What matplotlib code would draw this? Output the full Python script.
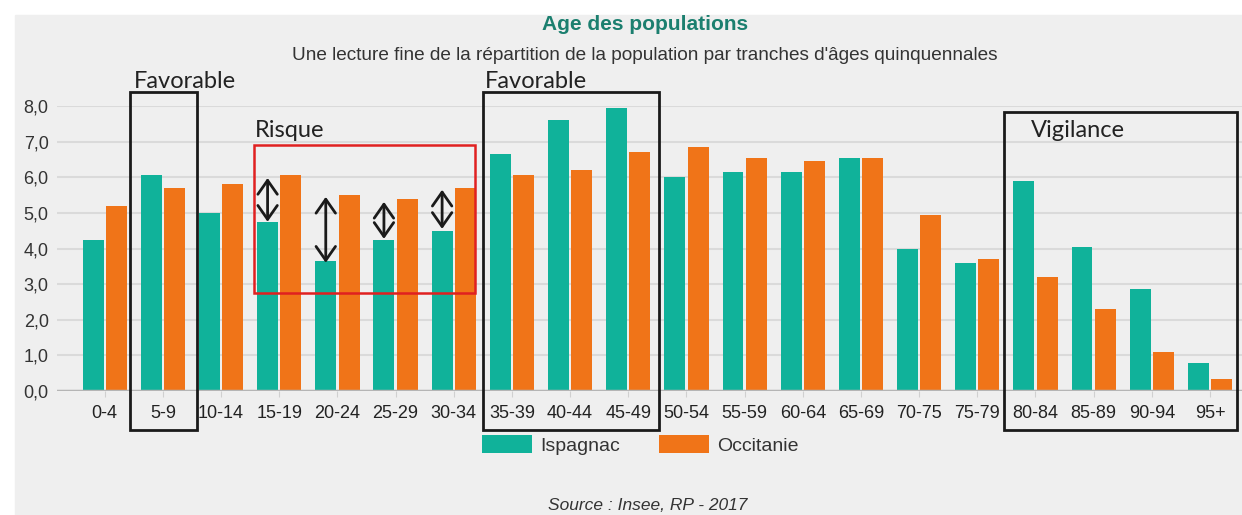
import numpy as np
import matplotlib.pyplot as plt
from matplotlib.patches import Rectangle

# ---------------------------------------
# DATA
# ---------------------------------------
categories = ["0-4", "5-9", "10-14", "15-19", "20-24", "25-29", "30-34",
              "35-39", "40-44", "45-49", "50-54", "55-59", "60-64", "65-69",
              "70-75", "75-79", "80-84", "85-89", "90-94", "95+"]
ispagnac = [4.25, 6.05, 5.0, 4.75, 3.65, 4.25, 4.5,
            6.65, 7.6, 7.95, 6.0, 6.15, 6.15, 6.55,
            4.0, 3.6, 5.9, 4.05, 2.85, 0.8]
occitanie = [5.2, 5.7, 5.8, 6.05, 5.5, 5.4, 5.7,
             6.05, 6.2, 6.7, 6.85, 6.55, 6.45, 6.55,
             4.95, 3.7, 3.2, 2.3, 1.1, 0.35]
yticks = [0, 1, 2, 3, 4, 5, 6, 7, 8]

# annotation boxes: (x0, x1, y0, y1, label)
black_boxes = [(0.43, 1.58, -1.1, 8.4, "Favorable"),
               (6.51, 9.52, -1.1, 8.4, "Favorable"),
               (15.46, 19.47, -1.1, 7.84, "Vigilance")]
red_box = (2.56, 6.36, 2.75, 6.91, "Risque")
# double arrows (category index, bottom, top)
arrows = [(3, 4.75, 5.98), (4, 3.6, 5.45), (5, 4.27, 5.31), (6, 4.55, 5.65)]

TEAL = "#10b29a"
ORANGE = "#f07418"
BG = "#efefef"

# ---------------------------------------
# FIGURE
# ---------------------------------------
plt.rcParams['font.family'] = ['Liberation Sans', 'DejaVu Sans']

fig = plt.figure(figsize=(12.42, 5.15), dpi=100)
fig.patches.append(Rectangle((15 / 1242, 0), 1, 1 - 15 / 515,
                             transform=fig.transFigure, color=BG, zorder=-5))

ax = fig.add_axes([57 / 1242, 1 - 391 / 515, 1 - 57 / 1242, (391 - 106) / 515])
ax.set_zorder(2)
ax.set_facecolor("none")

x = np.arange(len(categories))
w = 0.36
ax.bar(x - 0.2, ispagnac, w, color=TEAL, zorder=3, label="Ispagnac")
ax.bar(x + 0.2, occitanie, w, color=ORANGE, zorder=3, label="Occitanie")

ax.set_xlim(-0.82, 19.55)
ax.set_ylim(0, 8)
ax.set_yticks(yticks)
ax.set_yticklabels([f"{v:.1f}".replace(".", ",") for v in yticks],
                   fontsize=13, color="#333333")
ax.set_xticks(x)
ax.set_xticklabels(categories, fontsize=13, color="#222222")
ax.tick_params(axis="y", length=0, pad=6)
ax.tick_params(axis="x", length=4, color="#d0d0d0", pad=6)

ax.grid(axis="y", color="#dadada", lw=1.5, zorder=0)
for s in ax.spines.values():
    s.set_visible(False)
ax.axhline(0, color="#b5b5b5", lw=2.5, zorder=4)

# boxes and labels
for x0, x1, y0, y1, lab in black_boxes:
    ax.add_patch(Rectangle((x0, y0), x1 - x0, y1 - y0, fill=False,
                           ec="#1a1a1a", lw=2, clip_on=False, zorder=5))
for (x0, x1, y0, y1, lab), (tx, ty) in zip(black_boxes,
                                            [(0.50, 8.4), (6.53, 8.4), (15.93, 7.3)]):
    ax.text(tx, ty, lab, family="Lato", fontsize=17, color="#222222",
            ha="left", va="bottom" if ty > 8 else "center", zorder=6, clip_on=False)

x0, x1, y0, y1, lab = red_box
ax.add_patch(Rectangle((x0, y0), x1 - x0, y1 - y0, fill=False,
                       ec="#e02020", lw=1.8, zorder=5))
ax.text(2.58, 7.3, lab, family="Lato", fontsize=17, color="#222222",
        ha="left", va="center", zorder=6)

for i, lo, hi in arrows:
    ax.annotate("", xy=(i - 0.2, hi), xytext=(i - 0.2, lo),
                arrowprops=dict(arrowstyle="<->,head_length=0.5,head_width=0.35",
                                color="#1a1a1a", lw=2,
                                mutation_scale=20, shrinkA=0, shrinkB=0),
                zorder=6)

# titles
fig.text(645 / 1242, 1 - 25 / 515, "Age des populations", ha="center", va="center",
         fontsize=15, fontweight="bold", color="#1b7f6f")
fig.text(645 / 1242, 1 - 56 / 515,
         "Une lecture fine de la répartition de la population par tranches d'âges quinquennales",
         ha="center", va="center", fontsize=13.7, color="#333333")

leg = fig.legend(loc="center", bbox_to_anchor=(640 / 1242, 1 - 445 / 515), ncol=2,
                 frameon=False, fontsize=14, handlelength=2.6, handleheight=1.0,
                 columnspacing=2.0, handletextpad=0.4)
for t in leg.get_texts():
    t.set_color("#333333")

fig.text(648 / 1242, 1 - 513 / 515, "Source : Insee, RP - 2017", ha="center",
         va="bottom", fontsize=12.5, style="italic", color="#333333")

fig.savefig("out.png", dpi=100)
